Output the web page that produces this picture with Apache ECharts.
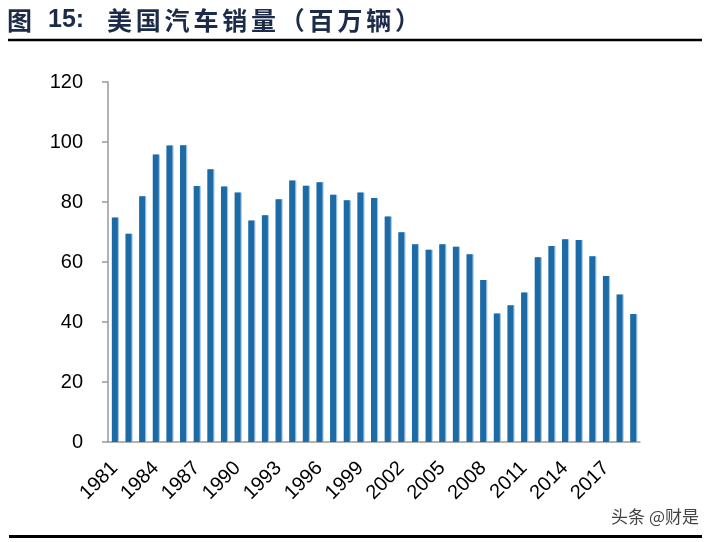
<!DOCTYPE html>
<html lang="zh">
  <head>
    <meta charset="UTF-8" />
    <title>美国汽车销量</title>
    <style>
      html,
      body {
        margin: 0;
        padding: 0;
        background: #fff;
      }
      #main {
        width: 714px;
        height: 542px;
      }
    </style>
  </head>
  <body>
    <div id="main"></div>
    <script src="https://cdn.jsdelivr.net/npm/echarts@6/dist/echarts.min.js"></script>
    <script>
      // 年份（1981-2019）
      var years = [
        "1981", "1982", "1983", "1984", "1985", "1986", "1987", "1988",
        "1989", "1990", "1991", "1992", "1993", "1994", "1995", "1996",
        "1997", "1998", "1999", "2000", "2001", "2002", "2003", "2004",
        "2005", "2006", "2007", "2008", "2009", "2010", "2011", "2012",
        "2013", "2014", "2015", "2016", "2017", "2018", "2019"
      ];
      // 销量，百万辆
      var sales = [
        74.8, 69.4, 81.9, 95.8, 98.8, 98.9, 85.3, 90.9, 85.2, 83.2,
        73.8, 75.6, 80.9, 87.2, 85.4, 86.6, 82.4, 80.6, 83.2, 81.3,
        75.2, 69.9, 65.9, 64.1, 65.9, 65.1, 62.6, 54.0, 42.8, 45.6,
        49.8, 61.6, 65.3, 67.6, 67.3, 61.9, 55.3, 49.2, 42.7
      ];
      var yTicks = [0, 20, 40, 60, 80, 100, 120];

      var titleHead = "图";
      var titleNum = "15:";
      var titleBody = "美国汽车销量（百万辆）";
      var watermark = "头条 @财是";

      var navy = "#1b2b48";
      var cjk = '"Noto Sans CJK SC", sans-serif';

      var graphics = [
        {
          type: "text",
          x: 7,
          y: 20,
          style: {
            text: titleHead,
            font: "bold 25px " + cjk,
            fill: navy,
            textVerticalAlign: "middle"
          }
        },
        {
          type: "text",
          x: 48,
          y: 20,
          style: {
            text: titleNum,
            font: 'bold 25px "Liberation Sans", Arial, sans-serif',
            fill: navy,
            textVerticalAlign: "middle"
          }
        },
        {
          type: "line",
          shape: { x1: 8, y1: 40, x2: 702, y2: 40 },
          style: { stroke: "#000", lineWidth: 2.5 }
        },
        {
          type: "line",
          shape: { x1: 9, y1: 536.5, x2: 702, y2: 536.5 },
          style: { stroke: "#000", lineWidth: 3 }
        },
        {
          type: "text",
          x: 699,
          y: 517,
          style: {
            text: watermark,
            font: "17px " + cjk,
            fill: "#444",
            stroke: "#fff",
            lineWidth: 1,
            textAlign: "right",
            textVerticalAlign: "middle"
          }
        }
      ];
      // 标题逐字摆放，字距较宽
      titleBody.split("").forEach(function(ch, i) {
        graphics.push({
          type: "text",
          x: 107 + i * 28.8,
          y: 20,
          style: {
            text: ch,
            font: "bold 25px " + cjk,
            fill: navy,
            textVerticalAlign: "middle"
          }
        });
      });

      var chart = echarts.init(document.getElementById("main"), null, {
        renderer: "canvas"
      });
      chart.setOption({
        animation: false,
        backgroundColor: "#fff",
        grid: {
          left: 108,
          right: 74,
          top: 82,
          bottom: 100,
          containLabel: false,
          outerBoundsMode: "none"
        },
        xAxis: {
          type: "category",
          data: years,
          boundaryGap: true,
          axisLine: { lineStyle: { color: "#999", width: 1.5 } },
          axisTick: { show: false },
          axisLabel: {
            interval: 2,
            rotate: 45,
            margin: 23,
            color: "#000",
            fontSize: 20,
            fontFamily: '"Liberation Sans", Arial, sans-serif'
          }
        },
        yAxis: {
          type: "value",
          min: yTicks[0],
          max: yTicks[yTicks.length - 1],
          interval: 20,
          splitLine: { show: false },
          axisLine: { show: true, lineStyle: { color: "#999", width: 1.5 } },
          axisTick: {
            show: true,
            inside: false,
            length: 6,
            lineStyle: { color: "#999", width: 1.5 }
          },
          axisLabel: {
            margin: 25,
            color: "#000",
            fontSize: 20,
            fontFamily: '"Liberation Sans", Arial, sans-serif'
          }
        },
        series: [
          {
            type: "bar",
            data: sales,
            barWidth: 6,
            itemStyle: {
              color: "#1c6ba7",
              shadowColor: "rgba(150,190,225,0.9)",
              shadowOffsetX: 1.2,
              shadowBlur: 0
            }
          }
        ],
        graphic: graphics
      });
    </script>
  </body>
</html>
